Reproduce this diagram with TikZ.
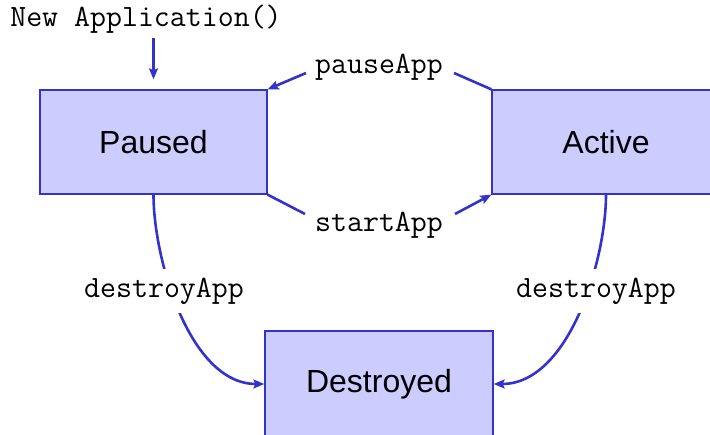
\documentclass[tikz,border=0pt]{standalone}
\usepackage{fontspec}
\setmainfont{Liberation Sans}
\usetikzlibrary{arrows.meta}
\definecolor{edgeblue}{HTML}{3333CC}
\definecolor{statefill}{HTML}{CCCCFF}
\tikzset{
  state/.style={draw=edgeblue, fill=statefill, line width=1.3pt, rectangle,
    minimum width=227pt, minimum height=104pt, inner sep=0pt,
    font=\fontsize{32}{38}\selectfont},
  lbl/.style={font=\ttfamily\fontsize{31}{34}\selectfont, inner sep=0pt},
  cutlbl/.style={lbl, fill=white, minimum height=44pt, inner xsep=4pt},
  conn/.style={draw=edgeblue, line width=2.6pt},
  arr/.style={conn, -{Stealth[length=11pt,width=9pt,inset=2pt]}}
}
\begin{document}
\begin{tikzpicture}[x=1pt,y=-1pt]
  \useasboundingbox (0,0) rectangle (710,435);
  % states
  \node[state] (P) at (153.5,142) {Paused};
  \node[state, minimum width=228pt] (A) at (606,142) {Active};
  \node[state, minimum width=228pt, minimum height=106pt] (D) at (379,384) {Destroyed};
  % creation
  \node[lbl, anchor=base] (newapp) at (146,27) {New Application()};
  \coordinate (newtail) at (153.5,38);
  \draw[arr, shorten >=10pt] (newtail) -- (P.north);
  % pauseApp
  \node[lbl, anchor=base] (pause) at (379,74) {pauseApp};
  \coordinate (pa-r) at (454,73);
  \coordinate (pa-l) at (306,73);
  \draw[conn] (A.north west) -- (pa-r);
  \draw[arr] (pa-l) -- (P.north east);
  % startApp
  \node[lbl, anchor=base] (start) at (379,232) {startApp};
  \coordinate (sa-l) at (305,214);
  \coordinate (sa-r) at (455,214);
  \draw[conn] (P.south east) -- (sa-l);
  \draw[arr] (sa-r) -- (A.south west);
  % destroyApp
  \draw[arr] (P.south) .. controls (153.5,260) and (190,384) .. (D.west);
  \draw[arr] (A.south) .. controls (606,260) and (569,384) .. (D.east);
  \node[cutlbl] (destl) at (164,291) {destroyApp};
  \node[cutlbl] (destr) at (596,291) {destroyApp};
\end{tikzpicture}
\end{document}
